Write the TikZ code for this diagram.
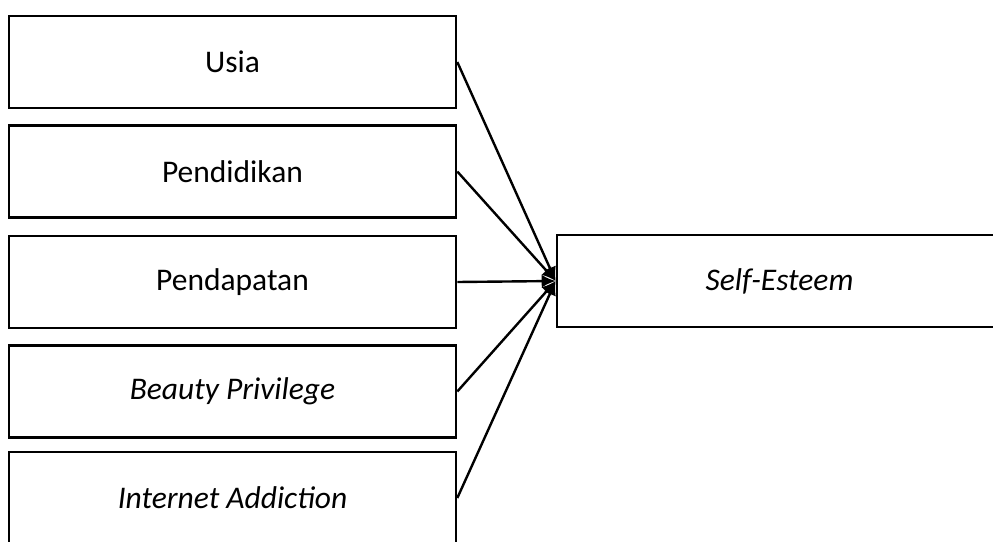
\documentclass[tikz,border=0pt]{standalone}
\usepackage{fontspec}
\setmainfont{Carlito}
\usetikzlibrary{arrows.meta}
\begin{document}
\begin{tikzpicture}[x=1pt,y=-1pt,
  varbox/.style={draw,line width=2.6pt,minimum width=447pt,minimum height=92pt,inner sep=0pt,font=\fontsize{31.5}{37}\selectfont},
  link/.style={line width=2.4pt,-{Latex[length=14pt,width=13pt]}}]
\useasboundingbox (0,0) rectangle (993,541);
\clip (0,0) rectangle (993,541);
\node[varbox] (usia) at (232.5,62) {Usia};
\node[varbox] (pend) at (232.5,171.5) {Pendidikan};
\node[varbox] (pdpt) at (232.5,282) {Pendapatan};
\node[varbox] (beauty) at (232.5,391.5) {\itshape Beauty Privilege};
\node[varbox] (inet) at (232.5,498) {\itshape Internet Addiction};
\node[varbox,minimum width=445pt] (se) at (779.5,281) {\itshape Self-Esteem};
\foreach \n in {usia,pend,pdpt,beauty,inet}
  \draw[link] (\n.east) -- (se.west);
\end{tikzpicture}
\end{document}
